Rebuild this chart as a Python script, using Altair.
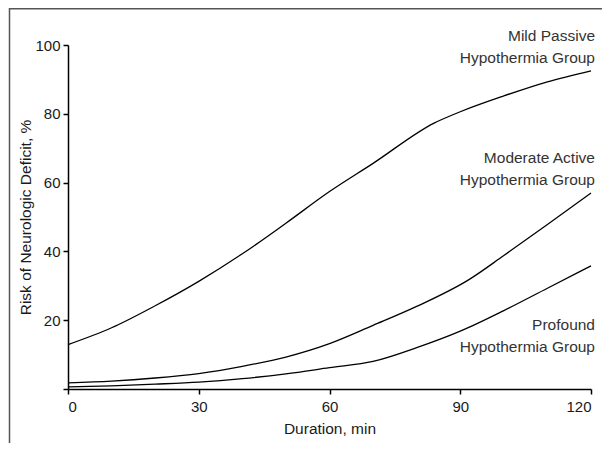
import altair as alt
import pandas as pd

FONT = "Liberation Sans, Arial, sans-serif"

minutes_mild = [0, 10, 20, 30, 40, 50, 60, 70, 84, 90, 100, 110, 120]
risk_mild = [12.9, 17.8, 24.2, 31.3, 39.3, 48.2, 57.4, 65.6, 77.3, 80.6, 85.2, 89.3, 92.5]

minutes_mod = [0, 10, 20, 30, 40, 50, 60, 70, 80, 92, 100, 110, 120]
risk_mod = [1.8, 2.3, 3.2, 4.5, 6.6, 9.3, 13.2, 18.5, 24.0, 31.8, 38.8, 47.8, 57.0]

minutes_prof = [0, 10, 20, 30, 40, 50, 60, 70, 80, 90, 100, 110, 120]
risk_prof = [0.6, 0.9, 1.4, 2.0, 3.0, 4.4, 6.2, 8.0, 12.0, 16.8, 22.8, 29.3, 35.8]

label_text = ["Mild Passive", "Hypothermia Group",
              "Moderate Active", "Hypothermia Group",
              "Profound", "Hypothermia Group"]
label_x = [120, 120, 120, 120, 120, 120]
label_y = [101.2, 94.7, 65.7, 59.4, 17.1, 10.7]

x_ticks = [0, 30, 60, 90, 120]
y_ticks = [0, 20, 40, 60, 80, 100]

rows = []
for g, xs, ys in [("Mild", minutes_mild, risk_mild),
                  ("Moderate", minutes_mod, risk_mod),
                  ("Profound", minutes_prof, risk_prof)]:
    for a, b in zip(xs, ys):
        rows.append({"group": g, "minutes": a, "risk": b})
df = pd.DataFrame(rows)
labels = pd.DataFrame({"text": label_text, "x": label_x, "y": label_y})

x_scale = alt.Scale(domain=[0, 120], nice=False, zero=False)
y_scale = alt.Scale(domain=[0, 100], nice=False)

lines = alt.Chart(df).mark_line(color="black", strokeWidth=1.3, interpolate="monotone").encode(
    x=alt.X("minutes:Q", scale=x_scale,
            axis=alt.Axis(title="Duration, min", values=x_ticks, grid=False,
                          domainColor="black", domainWidth=1.5, tickColor="black",
                          tickWidth=1.5, tickSize=5, labelPadding=5,
                          labelFont=FONT, labelFontSize=15, labelColor="#1a1a1a",
                          titleFont=FONT, titleFontSize=15.5, titleFontWeight="normal",
                          titleColor="#1a1a1a", titlePadding=7)),
    y=alt.Y("risk:Q", scale=y_scale,
            axis=alt.Axis(title="Risk of Neurologic Deficit, %", values=y_ticks, grid=False,
                          labelExpr="datum.value == 0 ? '' : datum.label",
                          domainColor="black", domainWidth=1.5, tickColor="black",
                          tickWidth=1.5, tickSize=5, labelPadding=3,
                          labelFont=FONT, labelFontSize=15, labelColor="#1a1a1a",
                          titleFont=FONT, titleFontSize=15.5, titleFontWeight="normal",
                          titleColor="#1a1a1a", titlePadding=1)),
    detail="group:N",
)

text = alt.Chart(labels).mark_text(align="right", baseline="alphabetic", dx=4,
                                    font=FONT, fontSize=15.5, color="#333333").encode(
    x=alt.X("x:Q", scale=x_scale),
    y=alt.Y("y:Q", scale=y_scale),
    text="text:N",
)

frame = alt.Chart(pd.DataFrame({"a": [0]})).mark_rect(
    fill=None, stroke="#555555", strokeWidth=1.5).encode(
    x=alt.value(-58.5), x2=alt.value(700), y=alt.value(-36.3), y2=alt.value(600)
)

chart = alt.layer(frame, lines, text).properties(
    width=523, height=344,
    autosize=alt.AutoSizeParams(type="none"),
    padding={"left": 60, "top": 37, "right": 11, "bottom": 54},
).configure_view(stroke=None)

chart.save("out.html", embed_options={"renderer": "svg", "actions": False})
